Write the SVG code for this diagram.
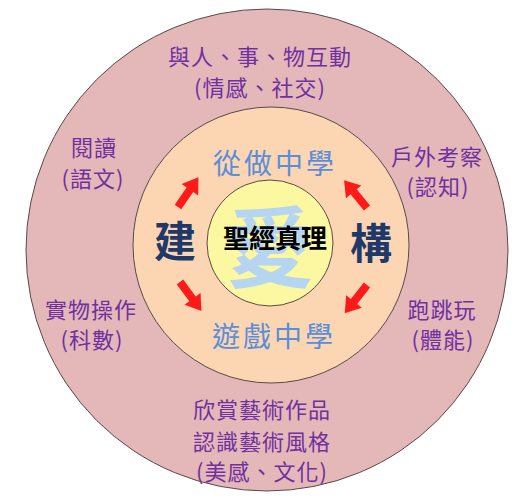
<svg xmlns="http://www.w3.org/2000/svg" xmlns:xlink="http://www.w3.org/1999/xlink" width="530" height="503" viewBox="0 0 530 503">
<style>
.ring{stroke:#5a4a4a;stroke-width:1}
.p{font-family:"Noto Sans CJK TC","Noto Sans CJK SC",sans-serif;font-size:22px;fill:#7030a0;text-anchor:middle;letter-spacing:1px}
.b{font-family:"Noto Sans CJK TC","Noto Sans CJK SC",sans-serif;font-size:28px;fill:#5b8ed9;text-anchor:middle;letter-spacing:3px}
.n{font-family:"Noto Sans CJK TC","Noto Sans CJK SC",sans-serif;font-size:42px;font-weight:bold;fill:#1f3a68;text-anchor:middle}
.arr{fill:#ff1a1a}
</style>
<defs>
<path id="arrow" d="M0,-4 L21,-4 L21,-10 L36,0 L21,10 L21,4 L0,4 Z"/>
</defs>
<rect width="530" height="503" fill="#ffffff"/>
<g id="outer"><circle class="ring" cx="267" cy="250" r="241" fill="#e4b7b8"/></g>
<g id="middle"><circle class="ring" cx="271" cy="245" r="138" fill="#fcd5b3"/></g>
<g id="inner"><circle class="ring" cx="270" cy="243" r="63" fill="#fcf8a2"/></g>
<g id="love"><text x="270" y="280" font-family="'Noto Sans CJK TC',sans-serif" font-size="88" font-weight="bold" fill="#b5d5f0" text-anchor="middle">愛</text></g>
<g id="bible"><text x="275" y="248" font-family="'Noto Sans CJK TC',sans-serif" font-size="26" font-weight="bold" fill="#000" text-anchor="middle">聖經真理</text></g>
<g id="learn-do"><text class="b" x="275" y="174">從做中學</text></g>
<g id="learn-play"><text class="b" x="274" y="347">遊戲中學</text></g>
<g id="jian"><text class="n" x="175" y="257">建</text></g>
<g id="gou"><text class="n" x="371" y="259">構</text></g>
<g id="social"><text class="p" x="260" y="65">與人、事、物互動</text><text class="p" x="260" y="96">(情感、社交)</text></g>
<g id="reading"><text class="p" x="94" y="156">閱讀</text><text class="p" x="93" y="187">(語文)</text></g>
<g id="hands-on"><text class="p" x="91" y="318">實物操作</text><text class="p" x="92" y="348">(科數)</text></g>
<g id="outdoor"><text class="p" x="437" y="165">戶外考察</text><text class="p" x="438" y="195">(認知)</text></g>
<g id="physical"><text class="p" x="442" y="318">跑跳玩</text><text class="p" x="443" y="348">(體能)</text></g>
<g id="art"><text class="p" x="262" y="418">欣賞藝術作品</text><text class="p" x="262" y="450">認識藝術風格</text><text class="p" x="262" y="480">(美感、文化)</text></g>
<g id="connectors" class="arr">
<use xlink:href="#arrow" transform="translate(178,207) rotate(-55.4)"/>
<use xlink:href="#arrow" transform="translate(367,208) rotate(-129.6)"/>
<use xlink:href="#arrow" transform="translate(180,282) rotate(53.4)"/>
<use xlink:href="#arrow" transform="translate(367,285) rotate(128.2)"/>
</g>
</svg>
